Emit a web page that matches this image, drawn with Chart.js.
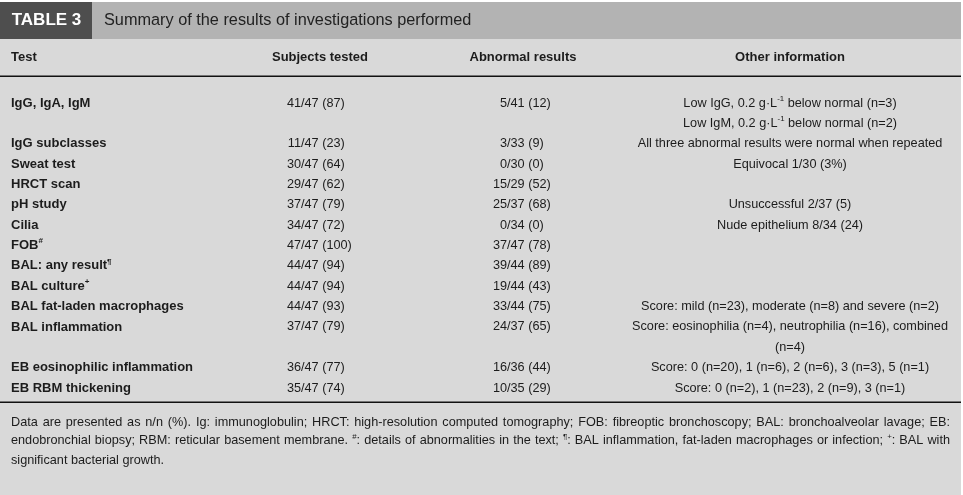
<!DOCTYPE html>
<html>
<head>
<meta charset="utf-8">
<script src="https://cdn.jsdelivr.net/npm/chart.js@4.4.1/dist/chart.umd.min.js"></script>
<style>
  html, body { margin: 0; padding: 0; background: #fff; }
  #wrap { width: 963px; height: 495px; }
</style>
</head>
<body>
<div id="wrap"><canvas id="tbl"></canvas></div>
<script>
// table text and values (^{..} = superscript)
var tableNo = 'TABLE 3';
var caption = 'Summary of the results of investigations performed';
var headers = ['Test', 'Subjects tested', 'Abnormal results', 'Other information'];

var tests = ['IgG, IgA, IgM', 'IgG subclasses', 'Sweat test', 'HRCT scan', 'pH study', 'Cilia', 'FOB^{#}',
  'BAL: any result^{¶}', 'BAL culture^{+}', 'BAL fat-laden macrophages', 'BAL inflammation',
  'EB eosinophilic inflammation', 'EB RBM thickening'];
var subjectsN     = [41, 11, 30, 29, 37, 34, 47, 44, 44, 44, 37, 36, 35];
var subjectsOf    = [47, 47, 47, 47, 47, 47, 47, 47, 47, 47, 47, 47, 47];
var subjectsPct   = [87, 23, 64, 62, 79, 72, 100, 94, 94, 93, 79, 77, 74];
var abnormalN     = [5, 3, 0, 15, 25, 0, 37, 39, 19, 33, 24, 16, 10];
var abnormalOf    = [41, 33, 30, 29, 37, 34, 47, 44, 44, 44, 37, 36, 35];
var abnormalPct   = [12, 9, 0, 52, 68, 0, 78, 89, 43, 75, 65, 44, 29];
var otherInfo = [
  ['Low IgG, 0.2 g\u00b7L^{-1} below normal (n=3)', 'Low IgM, 0.2 g\u00b7L^{-1} below normal (n=2)'],
  ['All three abnormal results were normal when repeated'],
  ['Equivocal 1/30 (3%)'],
  [],
  ['Unsuccessful 2/37 (5)'],
  ['Nude epithelium 8/34 (24)'],
  [], [], [],
  ['Score: mild (n=23), moderate (n=8) and severe (n=2)'],
  ['Score: eosinophilia (n=4), neutrophilia (n=16), combined', '(n=4)'],
  ['Score: 0 (n=20), 1 (n=6), 2 (n=6), 3 (n=3), 5 (n=1)'],
  ['Score: 0 (n=2), 1 (n=23), 2 (n=9), 3 (n=1)']
];
var notes = [
  'Data are presented as n/n (%). Ig: immunoglobulin; HRCT: high-resolution computed tomography; FOB: fibreoptic bronchoscopy; BAL: bronchoalveolar lavage; EB:',
  'endobronchial biopsy; RBM: reticular basement membrane. ^{#}: details of abnormalities in the text; ^{¶}: BAL inflammation, fat-laden macrophages or infection; ^{+}: BAL with',
  'significant bacterial growth.'
];

// layout
var FONT = '"Liberation Sans", Arial, Helvetica, sans-serif';
var W = 963, H = 495;
var line0 = 103, lineH = 20.36;   // first body line centre, line pitch
var tableRight = 961;
var colTest = 11, colSubj = 301, colAbn = 507, colOther = 790;
var ink = '#1c1c1c';

// each row takes as many lines as its "other information" needs
var rowLine = [];
var ln = 0;
for (var i = 0; i < tests.length; i++) {
  rowLine.push(ln);
  ln += Math.max(1, otherInfo[i].length);
}

function frac(n, of, p) { return n + '/' + of + ' (' + p + ')'; }

var otherPts = [], otherTexts = [];
otherInfo.forEach(function (lines, i) {
  lines.forEach(function (t, k) {
    otherPts.push({ x: colOther, y: rowLine[i] + k });
    otherTexts.push(t);
  });
});

// rich text helpers
function segs(s) {
  var out = [], re = /\^\{([^}]*)\}/g, last = 0, m;
  while ((m = re.exec(s))) {
    if (m.index > last) out.push({ t: s.slice(last, m.index), sup: false });
    out.push({ t: m[1], sup: true });
    last = re.lastIndex;
  }
  if (last < s.length) out.push({ t: s.slice(last), sup: false });
  return out;
}
function setFont(ctx, size, weight) { ctx.font = (weight || 'normal') + ' ' + size + 'px ' + FONT; }
function richWidth(ctx, s, size, weight) {
  var w = 0;
  segs(s).forEach(function (g) {
    setFont(ctx, g.sup ? size * 0.62 : size, weight);
    w += ctx.measureText(g.t).width;
  });
  return w;
}
function drawRich(ctx, s, x, y, size, weight, align) {
  var w = richWidth(ctx, s, size, weight);
  var cx = align === 'center' ? x - w / 2 : (align === 'right' ? x - w : x);
  ctx.textAlign = 'left';
  ctx.textBaseline = 'middle';
  segs(s).forEach(function (g) {
    setFont(ctx, g.sup ? size * 0.62 : size, weight);
    ctx.fillText(g.t, cx, g.sup ? y - size * 0.33 : y);
    cx += ctx.measureText(g.t).width;
  });
}
function drawJustified(ctx, s, x0, x1, y, size, last) {
  var words = s.split(' ');
  var ws = words.map(function (wd) { return richWidth(ctx, wd, size); });
  var sum = ws.reduce(function (a, b) { return a + b; }, 0);
  setFont(ctx, size);
  var gap = last ? ctx.measureText(' ').width : (x1 - x0 - sum) / (words.length - 1);
  var cx = x0;
  words.forEach(function (wd, k) {
    drawRich(ctx, wd, cx, y, size, 'normal', 'left');
    cx += ws[k] + gap;
  });
}

// frame, title, header and footnote
var framePlugin = {
  id: 'frame',
  beforeDatasetsDraw: function (chart) {
    var ctx = chart.ctx, ys = chart.scales.y;
    var yv = function (v) { return ys.getPixelForValue(v); };
    ctx.save();
    ctx.fillStyle = '#fff';
    ctx.fillRect(0, 0, W, H);
    ctx.fillStyle = '#d9d9d9';
    ctx.fillRect(0, 2, tableRight, H - 2);
    ctx.fillStyle = '#b3b3b3';
    ctx.fillRect(0, 2, tableRight, 37);
    ctx.fillStyle = '#4e4e4e';
    ctx.fillRect(0, 2, 92, 37);

    ctx.fillStyle = '#fff';
    drawRich(ctx, tableNo, 46.5, yv(-4.05), 17, 'bold', 'center');
    ctx.fillStyle = '#222';
    drawRich(ctx, caption, 104, yv(-4.05), 16.3, 'normal', 'left');

    ctx.fillStyle = ink;
    drawRich(ctx, headers[0], colTest, yv(-2.25), 13, 'bold', 'left');
    drawRich(ctx, headers[1], 320, yv(-2.25), 13, 'bold', 'center');
    drawRich(ctx, headers[2], 523, yv(-2.25), 13, 'bold', 'center');
    drawRich(ctx, headers[3], colOther, yv(-2.25), 13, 'bold', 'center');

    ctx.strokeStyle = '#111';
    ctx.lineWidth = 1.5;
    [-1.31, 14.7].forEach(function (v) {
      var y = Math.round(yv(v)) + 0.25;
      ctx.beginPath();
      ctx.moveTo(0, y);
      ctx.lineTo(tableRight, y);
      ctx.stroke();
    });

    var noteLines = [15.67, 16.6, 17.55];
    notes.forEach(function (s, k) {
      drawJustified(ctx, s, 11, 950, yv(noteLines[k]), 12.7, k === notes.length - 1);
    });
    ctx.restore();
  }
};

// cell text placed at each dataset point
var cellPlugin = {
  id: 'cells',
  afterDatasetsDraw: function (chart) {
    var ctx = chart.ctx;
    ctx.save();
    ctx.fillStyle = ink;
    chart.data.datasets.forEach(function (ds, di) {
      var meta = chart.getDatasetMeta(di);
      meta.data.forEach(function (el, k) {
        var t = ds.texts[k];
        if (ds.align === 'slash') {
          var p = t.indexOf('/');
          drawRich(ctx, t.slice(0, p), el.x, el.y, ds.size, ds.weight, 'right');
          drawRich(ctx, t.slice(p), el.x, el.y, ds.size, ds.weight, 'left');
        } else {
          drawRich(ctx, t, el.x, el.y, ds.size, ds.weight, ds.align);
        }
      });
    });
    ctx.restore();
  }
};

var datasets = [
  { label: headers[0], texts: tests, align: 'left', weight: 'bold', size: 13,
    data: tests.map(function (t, i) { return { x: colTest, y: rowLine[i] }; }) },
  { label: headers[1], align: 'slash', weight: 'normal', size: 12.7,
    texts: subjectsN.map(function (v, i) { return frac(v, subjectsOf[i], subjectsPct[i]); }),
    data: subjectsN.map(function (v, i) { return { x: colSubj, y: rowLine[i] }; }) },
  { label: headers[2], align: 'slash', weight: 'normal', size: 12.7,
    texts: abnormalN.map(function (v, i) { return frac(v, abnormalOf[i], abnormalPct[i]); }),
    data: abnormalN.map(function (v, i) { return { x: colAbn, y: rowLine[i] }; }) },
  { label: headers[3], texts: otherTexts, align: 'center', weight: 'normal', size: 12.7,
    data: otherPts }
];

var ctx = document.getElementById('tbl');
var table = new Chart(ctx, {
  type: 'scatter',
  data: { datasets: datasets },
  options: {
    responsive: true,
    maintainAspectRatio: false,
    animation: false,
    events: [],
    layout: { padding: 0 },
    elements: { point: { radius: 0, hoverRadius: 0 } },
    plugins: { legend: { display: false }, tooltip: { enabled: false } },
    scales: {
      x: { type: 'linear', display: false, min: 0, max: W },
      y: { type: 'linear', display: false, reverse: true, min: -line0 / lineH, max: (H - line0) / lineH }
    }
  },
  plugins: [framePlugin, cellPlugin]
});
</script>
</body>
</html>
